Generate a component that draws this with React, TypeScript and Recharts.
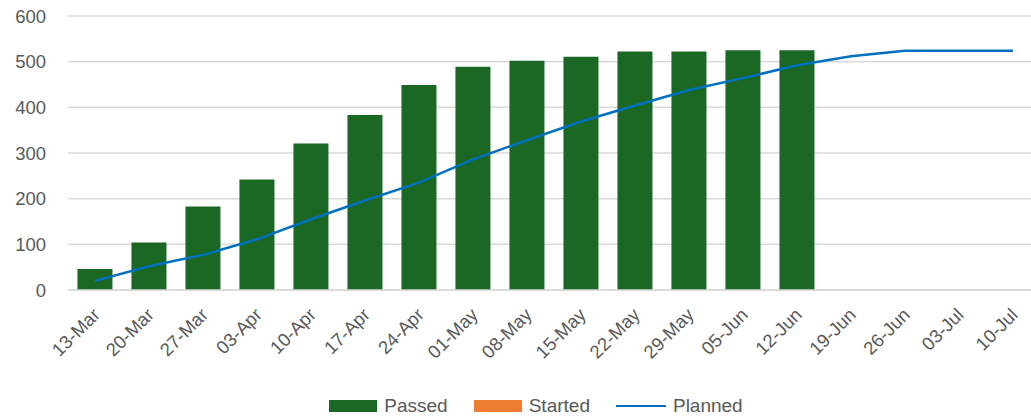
import React from 'react'
import { ComposedChart, Bar, Line, XAxis, YAxis, CartesianGrid, Legend } from 'recharts'

const categories = ['13-Mar','20-Mar','27-Mar','03-Apr','10-Apr','17-Apr','24-Apr','01-May','08-May','15-May','22-May','29-May','05-Jun','12-Jun','19-Jun','26-Jun','03-Jul','10-Jul']
const passed = [46,104,183,242,321,383,449,489,502,511,522,522,525,525,null,null,null,null]
const started: (number|null)[] = categories.map(() => null)
const planned = [20,52,77,111,155,196,235,286,328,369,404,438,464,492,512,524,524,524]
const yTicks = [0,100,200,300,400,500,600]

const GREEN = '#1B6724'
const ORANGE = '#ED7D31'
const BLUE = '#0070C0'
const TEXT = '#595959'
const FONT = '"Liberation Sans", Arial, sans-serif'

const data = categories.map((c, i) => ({ week: c, passed: passed[i], started: started[i], planned: planned[i] }))

function XTick(props: any) {
  const { x, y, payload } = props
  return (
    <g transform={`translate(${x + 6},${y + 24})`}>
      <text textAnchor="end" transform="rotate(-45)" fill={TEXT} fontSize={18.5} fontFamily={FONT}>{payload.value}</text>
    </g>
  )
}

function LegendBox() {
  const item = (swatch: React.ReactNode, label: string, last?: boolean) => (
    <div style={{ display: 'flex', alignItems: 'center', marginRight: last ? 0 : 26 }}>
      {swatch}
      <span style={{ marginLeft: 7, color: TEXT, fontSize: 19, lineHeight: '22px', fontFamily: FONT }}>{label}</span>
    </div>
  )
  return (
    <div style={{ display: 'flex', justifyContent: 'center', position: 'relative', left: 16 }}>
      {item(<div style={{ width: 48, height: 12, background: GREEN }} />, 'Passed')}
      {item(<div style={{ width: 48, height: 12, background: ORANGE }} />, 'Started')}
      {item(<div style={{ width: 50, height: 2.5, background: BLUE }} />, 'Planned', true)}
    </div>
  )
}

export default function App() {
  return (
    <div style={{ position: 'absolute', left: 0, top: 0, width: 1031, height: 417, overflow: 'hidden', background: '#fff' }}>
      <ComposedChart width={1040} height={417} data={data} margin={{ top: 16, right: 0, bottom: 0, left: 0 }}
        barCategoryGap="17.5%">
        <CartesianGrid vertical={false} stroke="#D9D9D9" strokeWidth={1.5} />
        <XAxis dataKey="week" interval={0} tickLine={false} tickSize={0} height={105}
          axisLine={{ stroke: '#D9D9D9', strokeWidth: 1.5 }} tick={<XTick />} />
        <YAxis domain={[0, 600]} ticks={yTicks} width={68} axisLine={false} tickLine={false} tickSize={0} tickMargin={22}
          tick={{ fill: TEXT, fontSize: 18.5, fontFamily: FONT }} />
        <Legend verticalAlign="bottom" content={() => <LegendBox />} />
        <Bar dataKey="passed" name="Passed" stackId="a" fill={GREEN} isAnimationActive={false} />
        <Bar dataKey="started" name="Started" stackId="a" fill={ORANGE} isAnimationActive={false} />
        <Line dataKey="planned" name="Planned" type="linear" stroke={BLUE} strokeWidth={2.5} dot={false} isAnimationActive={false} />
      </ComposedChart>
    </div>
  )
}
